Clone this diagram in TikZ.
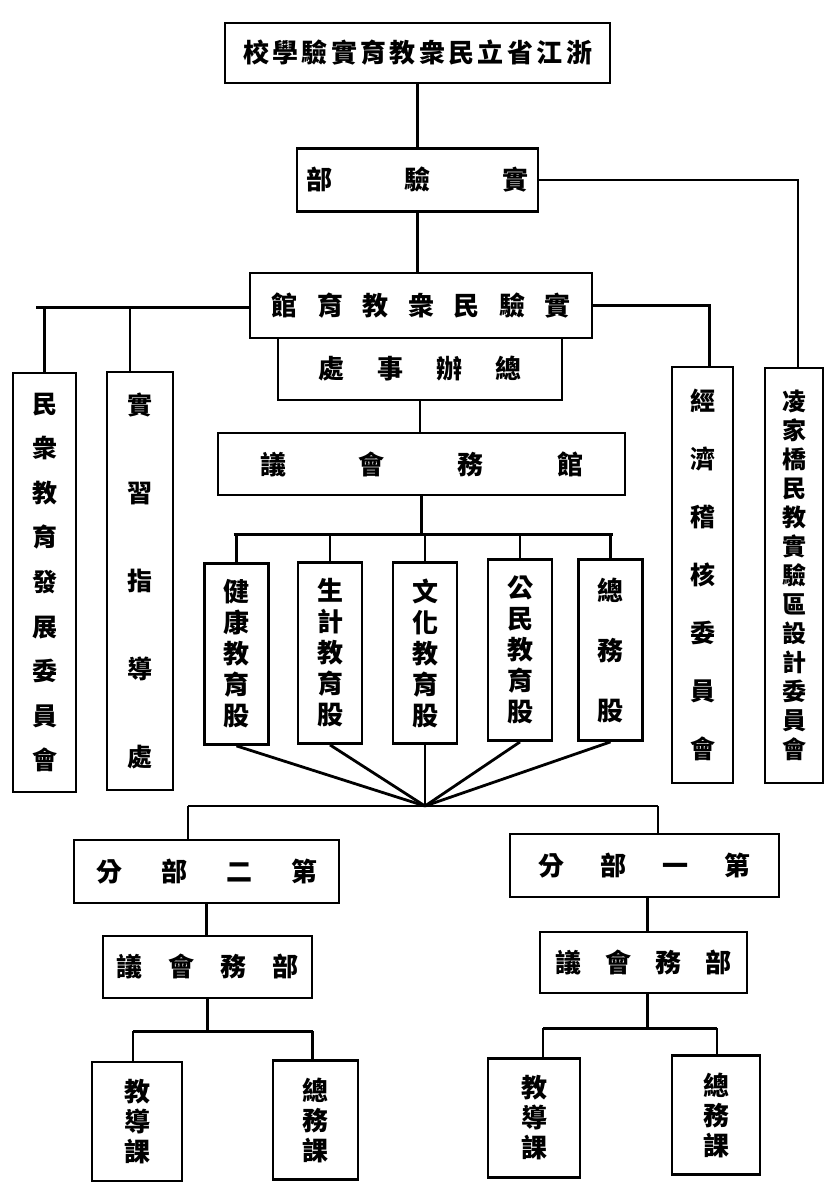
\documentclass[tikz,border=0pt]{standalone}
\usepackage{fontspec}
\newfontfamily\cjk{Noto Sans CJK TC}
\usetikzlibrary{calc}
\newcommand\spr[2]{\makebox[#1]{#2}}
\begin{document}
\begin{tikzpicture}[x=1pt,y=-1pt,
  wire/.style={line width=2.8pt},
  hbox/.style={draw, line width=2.8pt, inner sep=0pt, font=\cjk\bfseries\fontsize{26}{30}\selectfont},
  vbox/.style={draw, line width=2.8pt, inner sep=0pt, align=center}]
\useasboundingbox (0,0) rectangle (826,1186);
% top chain
\node[hbox, minimum width=385pt, minimum height=60pt] (title) at (417.5,53)
  {\spr{349pt}{校\hfill 學\hfill 驗\hfill 實\hfill 育\hfill 教\hfill 衆\hfill 民\hfill 立\hfill 省\hfill 江\hfill 浙}};
\node[hbox, minimum width=241pt, minimum height=63pt] (sub1) at (417.5,180)
  {\spr{222pt}{部\hfill 驗\hfill 實}};
\node[hbox, minimum width=342pt, minimum height=65pt] (guan) at (421,305.5)
  {\spr{299pt}{館\hfill 育\hfill 教\hfill 衆\hfill 民\hfill 驗\hfill 實}};
\node[hbox, minimum width=284pt, minimum height=62pt] (zong) at (420,369)
  {\spr{204pt}{處\hfill 事\hfill 辦\hfill 總}};
\node[hbox, minimum width=407pt, minimum height=62pt] (guanwu) at (421.5,464)
  {\spr{323pt}{議\hfill 會\hfill 務\hfill 館}};
% five sections
\tikzset{five/.style={vbox, minimum width=64pt, minimum height=181pt, font=\cjk\bfseries\fontsize{26}{31}\selectfont}}
\node[five] (b1) at (236.5,654) {健\\康\\教\\育\\股};
\node[five] (b2) at (330,653) {生\\計\\教\\育\\股};
\node[five] (b3) at (425,653) {文\\化\\教\\育\\股};
\node[five] (b4) at (520,650) {公\\民\\教\\育\\股};
\node[five, font=\cjk\bfseries\fontsize{26}{60}\selectfont] (b5) at (610.5,650) {總\\務\\股};
% side columns
\node[vbox, minimum width=63pt, minimum height=419pt, font=\cjk\bfseries\fontsize{25}{44.6}\selectfont] (left1) at (44.5,582.5)
  {民\\衆\\教\\育\\發\\展\\委\\員\\會};
\node[vbox, minimum width=66pt, minimum height=418pt, font=\cjk\bfseries\fontsize{25}{88}\selectfont] (left2) at (140,581)
  {實\\習\\指\\導\\處};
\node[vbox, minimum width=61pt, minimum height=416pt, font=\cjk\bfseries\fontsize{25}{58}\selectfont] (right1) at (702.5,575)
  {經\\濟\\稽\\核\\委\\員\\會};
\node[vbox, minimum width=58pt, minimum height=415pt, font=\cjk\bfseries\fontsize{24}{29}\selectfont] (right2) at (794,575.5)
  {凌\\家\\橋\\民\\教\\實\\驗\\區\\設\\計\\委\\員\\會};
% branches
\node[hbox, minimum width=265pt, minimum height=63pt] (fenL) at (206.5,871.5)
  {\spr{221pt}{分\hfill 部\hfill 二\hfill 第}};
\node[hbox, minimum width=269pt, minimum height=63pt] (fenR) at (644.5,865.5)
  {\spr{212pt}{分\hfill 部\hfill 一\hfill 第}};
\node[hbox, minimum width=209pt, minimum height=62pt] (hyL) at (207.5,967)
  {\spr{182pt}{議\hfill 會\hfill 務\hfill 部}};
\node[hbox, minimum width=207pt, minimum height=61pt] (hyR) at (643.5,962.5)
  {\spr{177pt}{議\hfill 會\hfill 務\hfill 部}};
\tikzset{ke/.style={vbox, minimum height=119pt, font=\cjk\bfseries\fontsize{26}{30}\selectfont}}
\node[ke, minimum width=90pt] (jdL) at (137,1121.5) {教\\導\\課};
\node[ke, minimum width=85pt] (zwL) at (315.5,1120) {總\\務\\課};
\node[ke, minimum width=92pt] (jdR) at (534,1118) {教\\導\\課};
\node[ke, minimum width=88pt] (zwR) at (716,1115) {總\\務\\課};
% connectors
\draw[wire] (title.south) -- (sub1.north);
\draw[wire] (sub1.south) -- (sub1.south |- guan.north);
\draw[wire] (sub1.east) -| ([xshift=4pt]right2.north);
\coordinate (L) at ($(guan.west)+(-213,2)$);
\draw[wire] (guan.west |- L) -- (L);
\draw[wire] (left1.north |- L) -- (left1.north);
\draw[wire] ([xshift=-10pt]left2.north |- L) -- ([xshift=-10pt]left2.north);
\draw[wire] (guan.east) -| ([xshift=7pt]right1.north);
\draw[wire] (zong.south) -- (zong.south |- guanwu.north);
\coordinate (B1) at ($(guanwu.south)+(0,38)$);
\draw[wire] (guanwu.south) -- (B1);
\draw[wire] ([xshift=-3pt]b1.north |- B1) -- ([xshift=2pt]b5.north |- B1);
\foreach \b in {b1,b2,b3,b4,b5} \draw[wire] (\b.north |- B1) -- (\b.north);
\coordinate (F) at (425,806);
\foreach \b in {b1,b2,b3,b4,b5} \draw[wire] (\b.south) -- (F);
\draw[wire] ([xshift=-18.5pt]fenL.north |- F) -- ([xshift=13.5pt]fenR.north |- F);
\draw[wire] ([xshift=-18.5pt]fenL.north |- F) -- ([xshift=-18.5pt]fenL.north);
\draw[wire] ([xshift=13.5pt]fenR.north |- F) -- ([xshift=13.5pt]fenR.north);
\draw[wire] (fenL.south) -- (fenL.south |- hyL.north);
\draw[wire] ([xshift=3pt]fenR.south) -- ([xshift=3pt]fenR.south |- hyR.north);
\coordinate (B3) at ($(hyL.south)+(0,32)$);
\draw[wire] (hyL.south) -- (B3);
\draw[wire] ([xshift=-4pt]jdL.north |- B3) -- ([xshift=-3pt]zwL.north |- B3);
\draw[wire] ([xshift=-4pt]jdL.north |- B3) -- ([xshift=-4pt]jdL.north);
\draw[wire] ([xshift=-3pt]zwL.north |- B3) -- ([xshift=-3pt]zwL.north);
\coordinate (B4) at ($(hyR.south)+(4,34)$);
\draw[wire] ([xshift=4pt]hyR.south) -- (B4);
\draw[wire] ([xshift=9pt]jdR.north |- B4) -- ([xshift=1pt]zwR.north |- B4);
\draw[wire] ([xshift=9pt]jdR.north |- B4) -- ([xshift=9pt]jdR.north);
\draw[wire] ([xshift=1pt]zwR.north |- B4) -- ([xshift=1pt]zwR.north);
\end{tikzpicture}
\end{document}
